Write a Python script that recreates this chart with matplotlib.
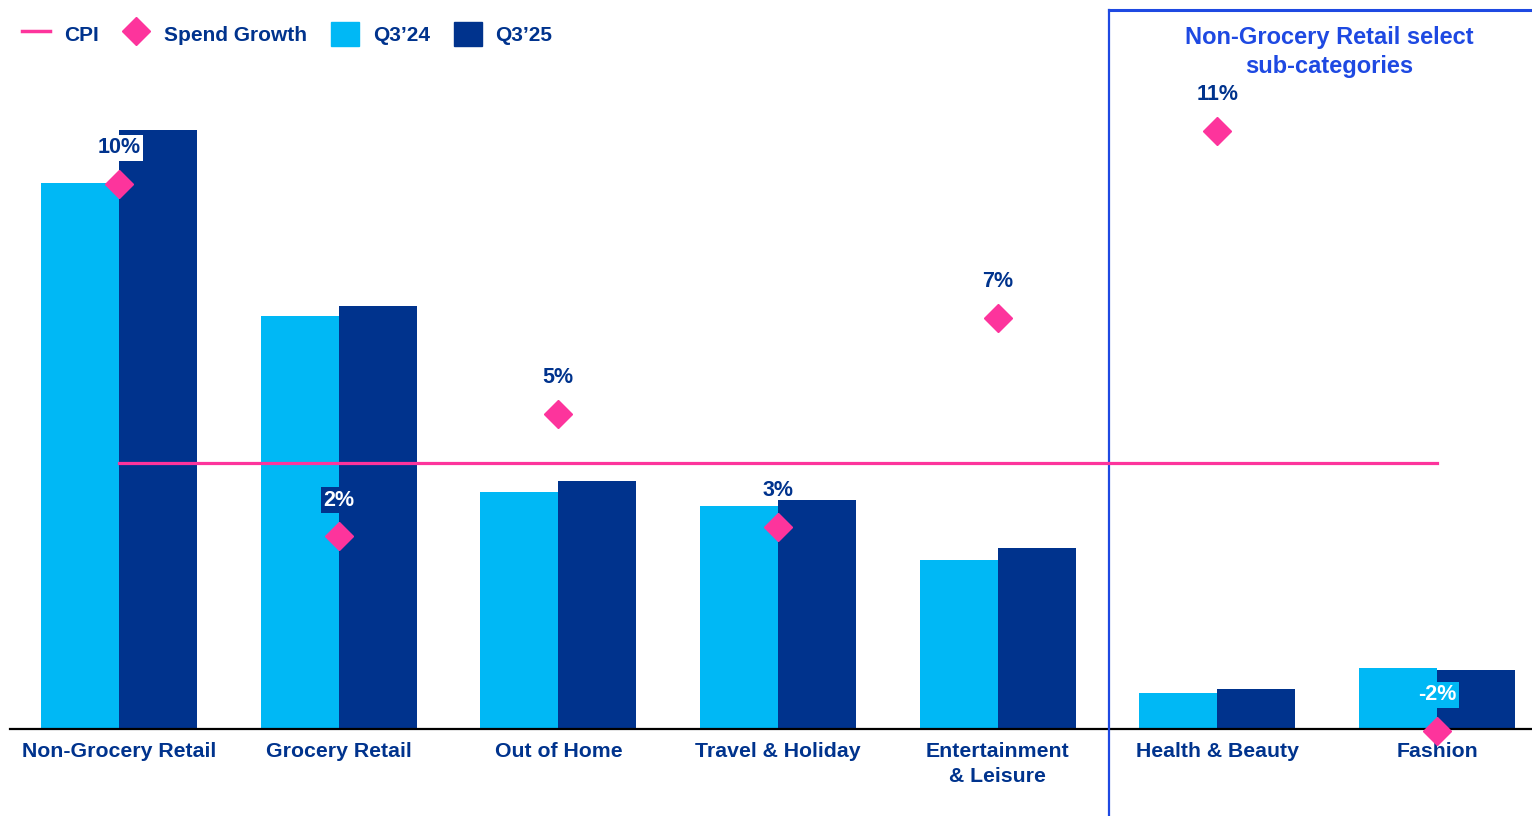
import numpy as np
import matplotlib.pyplot as plt
from matplotlib.lines import Line2D
from matplotlib.patches import Patch

plt.rcParams['font.family'] = ['Liberation Sans', 'DejaVu Sans']
plt.rcParams['font.weight'] = 'bold'

categories = ['Non-Grocery Retail', 'Grocery Retail', 'Out of Home', 'Travel & Holiday',
              'Entertainment\n& Leisure', 'Health & Beauty', 'Fashion']
spend_q3_24 = [54.6, 41.3, 23.7, 22.3, 16.9, 3.6, 6.1]
spend_q3_25 = [59.9, 42.3, 24.8, 22.9, 18.1, 4.0, 5.9]
spend_growth = [9.8, 2.45, 5.0, 2.65, 7.0, 10.9, -1.6]
cpi = 3.98

NAVY = '#00338D'
LIGHT = '#00B8F5'
PINK = '#FD349C'
COBALT = '#1E49E2'

fig = plt.figure(figsize=(15.32, 8.16), dpi=100)
ax = fig.add_axes([10 / 1532, 1 - 729.3 / 816, 1 - 10 / 1532, 719.3 / 816])

x = np.arange(len(categories))
w = 0.355
ax.bar(x - w / 2, spend_q3_24, w, color=LIGHT, zorder=2)
ax.bar(x + w / 2, spend_q3_25, w, color=NAVY, zorder=2)
ax.set_xlim(-0.496, 6.432)
ax.set_ylim(0, 71.93)

ax.set_xticks(x)
ax.set_xticklabels(categories, fontsize=15.3, color=NAVY, fontweight='bold', linespacing=1.4)
ax.tick_params(axis='x', length=0, pad=9)
ax.set_yticks([])
for s in ['top', 'left', 'right']:
    ax.spines[s].set_visible(False)
ax.spines['bottom'].set_linewidth(1.6)
ax.spines['bottom'].set_zorder(5)

# spend growth and CPI on a second scale
ax2 = ax.twinx()
ax2.set_ylim(-1.57, 13.42)
ax2.set_yticks([])
for s in ax2.spines.values():
    s.set_visible(False)
ax2.plot([x[0], x[-1]], [cpi, cpi], color=PINK, lw=2.3, zorder=3)
ax2.plot(x, spend_growth, linestyle='none', marker='D', ms=14.5, color=PINK,
         zorder=4, clip_on=False)

label_style = {1: ('white', NAVY), 6: ('white', LIGHT), 0: (NAVY, 'white')}
for i, v in enumerate(spend_growth):
    fc, bg = label_style.get(i, (NAVY, None))
    bbox = dict(boxstyle='square,pad=0.12', fc=bg, ec='none') if bg else None
    ax2.annotate(f'{v:.0f}%', (x[i], v), xytext=(0, 26), textcoords='offset points',
                 ha='center', va='center', fontsize=15.5, color=fc, fontweight='bold',
                 bbox=bbox, zorder=6, annotation_clip=False)

# box around the sub-category section
tr = ax.get_xaxis_transform()
ax.plot([4.505, 4.505], [-0.121, 1.0], transform=tr, color=COBALT, lw=1.6, clip_on=False, zorder=6)
ax.plot([4.505, 6.432], [1.0, 1.0], transform=tr, color=COBALT, lw=2.2, clip_on=False, zorder=6)
fig.text(1329 / 1532, 1 - 52 / 816, 'Non-Grocery Retail select\nsub-categories',
         ha='center', va='center', fontsize=17, color=COBALT, fontweight='bold',
         linespacing=1.32)

handles = [Line2D([], [], color=PINK, lw=2.5),
           Line2D([], [], linestyle='none', marker='D', ms=14, color=PINK),
           Patch(color=LIGHT), Patch(color=NAVY)]
labels = ['CPI', 'Spend Growth', 'Q3\u201924', 'Q3\u201925']
leg = fig.legend(handles, labels, loc='center left', bbox_to_anchor=(22 / 1532, 1 - 34 / 816),
                 ncol=4, frameon=False, fontsize=15, handlelength=1.35, handleheight=1.4,
                 handletextpad=0.65, columnspacing=1.15, borderpad=0, borderaxespad=0)
for t in leg.get_texts():
    t.set_color(NAVY)
    t.set_fontweight('bold')

fig.savefig('out.png', dpi=100)
